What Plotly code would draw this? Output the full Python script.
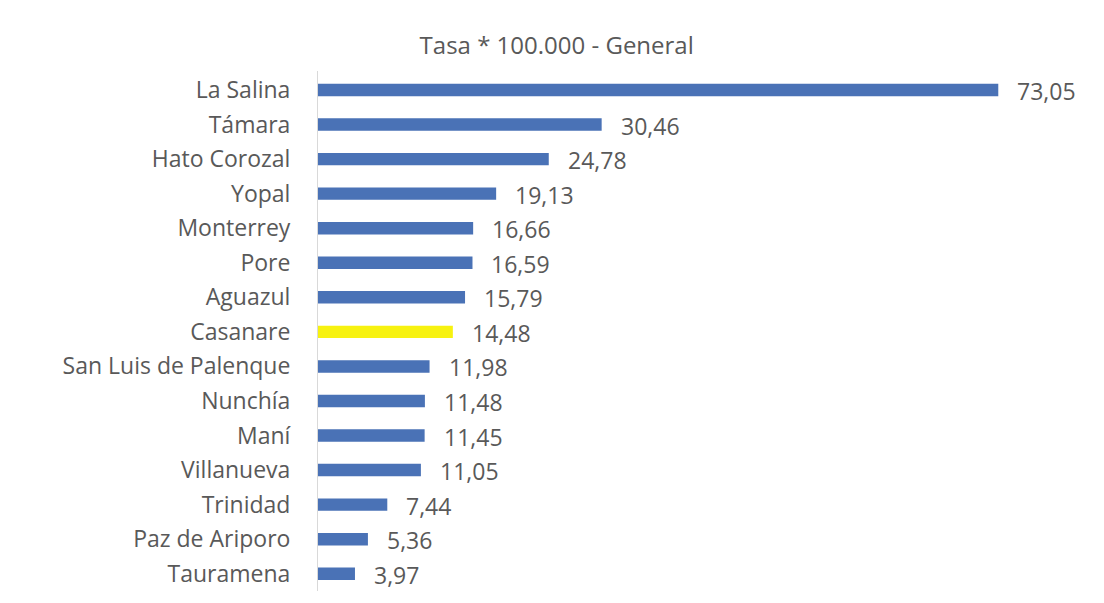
import plotly.graph_objects as go

municipios = ["La Salina", "Támara", "Hato Corozal", "Yopal", "Monterrey", "Pore",
              "Aguazul", "Casanare", "San Luis de Palenque", "Nunchía", "Maní",
              "Villanueva", "Trinidad", "Paz de Ariporo", "Tauramena"]
tasas = [73.05, 30.46, 24.78, 19.13, 16.66, 16.59, 15.79, 14.48, 11.98, 11.48,
         11.45, 11.05, 7.44, 5.36, 3.97]
titulo = "Tasa * 100.000 - General"

BLUE = "#4a72b6"
YELLOW = "#f7f210"
colors = [YELLOW if m == "Casanare" else BLUE for m in municipios]
FONT = "Open Sans"
GRAY = "#595959"

fig = go.Figure(go.Bar(
    x=tasas, y=municipios, orientation="h",
    marker=dict(color=colors, line=dict(width=0)),
    hoverinfo="x+y",
))

for m, v in zip(municipios, tasas):
    fig.add_annotation(x=v, y=m, text=f"{v:.2f}".replace(".", ","),
                       xanchor="left", yanchor="middle", xshift=17, yshift=-1,
                       showarrow=False,
                       font=dict(family=FONT, size=23, color=GRAY))

fig.update_layout(
    width=1104, height=603,
    paper_bgcolor="white", plot_bgcolor="white",
    margin=dict(l=310, r=49, t=63, b=20),
    bargap=0.64,
    showlegend=False,
    title=dict(text=titulo, x=0.497, xanchor="center", y=0.938, yanchor="middle",
               font=dict(family=FONT, size=24, color=GRAY)),
    xaxis=dict(range=[0, 80], visible=False, fixedrange=True),
    yaxis=dict(autorange="reversed", showline=True, linecolor="#d9d9d9", linewidth=1,
               showgrid=False, ticks="", ticklabelstandoff=22,
               tickfont=dict(family=FONT, size=23, color=GRAY)),
)

fig.write_html("out.html")
